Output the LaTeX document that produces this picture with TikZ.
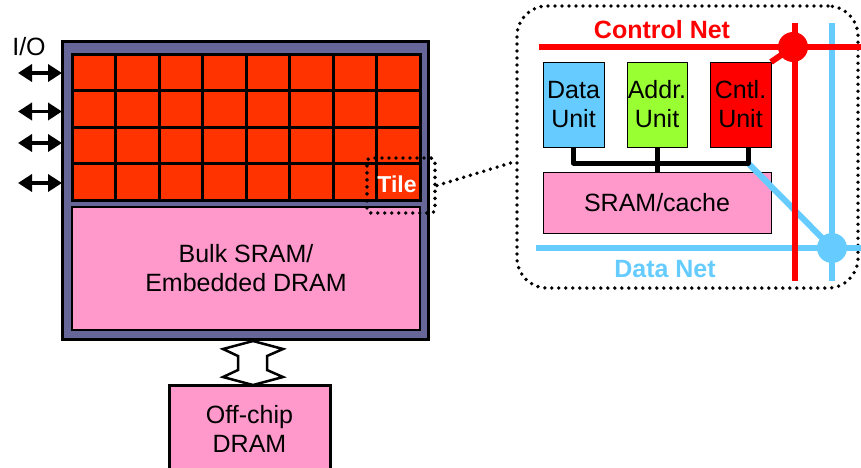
\documentclass[tikz,border=0pt]{standalone}
\usepackage{fontspec}
\setmainfont{Liberation Sans}
\usetikzlibrary{arrows.meta}
\definecolor{frame}{HTML}{666699}
\definecolor{tilered}{HTML}{FF3300}
\definecolor{pinkf}{HTML}{FF99CC}
\definecolor{netblue}{HTML}{66CCFF}
\definecolor{netred}{HTML}{FF0000}
\definecolor{addrgreen}{HTML}{99FF33}
\tikzset{
  box/.style={draw, inner sep=0pt, outer sep=0pt, align=center, font=\fontsize{25}{29}\selectfont},
  thinbox/.style={box, line width=0.8pt},
  dotline/.style={line width=3.8pt, dash pattern=on 0pt off 7pt, line cap=round},
  gridline/.style={line width=3pt, black},
  ioarrow/.style={line width=3.5pt, {Triangle[length=14pt,width=17pt]}-{Triangle[length=14pt,width=17pt]}},
  rednet/.style={line width=6pt, netred},
  bluenet/.style={line width=6pt, netblue},
  netlabel/.style={font=\fontsize{25}{28}\selectfont\bfseries, inner sep=0pt},
  junction/.style={circle, inner sep=0pt, minimum size=30pt},
}
\begin{document}
\begin{tikzpicture}[x=1pt,y=-1pt]
\useasboundingbox (0,0) rectangle (861,467);

% chip
\node[box, fill=frame, line width=3pt, minimum width=366pt, minimum height=298pt] (chip) at (245,190) {};
\node[box, fill=tilered, line width=3pt, minimum width=348pt, minimum height=146pt] (grid) at (246,127) {};
\foreach \i in {1,...,7} \draw[gridline] (72+43.5*\i,54) -- (72+43.5*\i,200);
\foreach \j in {1,...,3} \draw[gridline] (72,54+36.5*\j) -- (420,54+36.5*\j);
\node[box, fill=pinkf, line width=2.5pt, minimum width=348pt, minimum height=123pt] (bulk) at (246,268.5) {Bulk SRAM/\\Embedded DRAM};

% I/O
\node[inner sep=0pt, font=\fontsize{25}{29}\selectfont] (io) at (29,47) {I/O};
\foreach \y [count=\k] in {73,111.5,143,183} {
  \coordinate (iol\k) at (18,\y);
  \draw[ioarrow] (iol\k) -- (iol\k -| chip.west);
}

% tile
\node[inner sep=0pt, text=white, font=\fontsize{23}{26}\selectfont\bfseries] (tile) at (397,184) {Tile};
\node[dotline, draw, rounded corners=4pt, minimum width=68pt, minimum height=55pt, inner sep=0pt] (tilebox) at (401,185.5) {};

% off-chip
\node[box, fill=pinkf, line width=3pt, minimum width=161pt, minimum height=88pt] (offchip) at (249.5,429) {Off-chip\\DRAM};
\draw[line width=2.5pt, fill=white, line join=miter]
  (253,341) -- (283,349) -- (267,356) -- (267,370) -- (283,377) -- (253,385)
  -- (223,377) -- (238,370) -- (238,356) -- (223,349) -- cycle;

% tile detail panel
\node[dotline, draw, rounded corners=30pt, minimum width=341pt, minimum height=282pt, inner sep=0pt] (panel) at (687.5,147) {};
\coordinate (pin) at (517,161);
\draw[dotline] (tilebox.east) -- (pin);

\node[thinbox, fill=netblue, minimum width=61pt, minimum height=85pt] (data) at (573.5,104.5) {Data\\Unit};
\node[thinbox, fill=addrgreen, minimum width=60pt, minimum height=85pt] (addr) at (657,104.5) {Addr.\\Unit};
\node[thinbox, fill=netred, minimum width=61pt, minimum height=85pt] (cntl) at (740.5,104.5) {Cntl.\\Unit};
\node[thinbox, fill=pinkf, minimum width=228pt, minimum height=61pt] (sram) at (657,202.5) {SRAM/cache};

% blue net
\coordinate (dnL) at (536,248); \coordinate (dnR) at (861,248);
\coordinate (dvT) at (832,23); \coordinate (dvB) at (832,281);
\coordinate (busend) at (748,163);
\draw[bluenet] (dnL) -- (dnR);
\draw[bluenet] (dvT) -- (dvB);
\node[junction, fill=netblue] (dn) at (832,248) {};
\draw[bluenet] (busend) -- (dn.center);

% red net
\coordinate (cnL) at (539,47); \coordinate (cnR) at (861,47);
\coordinate (cvT) at (795,23); \coordinate (cvB) at (795,281);
\draw[rednet] (cnL) -- (cnR);
\draw[rednet] (cvT) -- (cvB);
\node[junction, fill=netred] (cn) at (793,47) {};
\draw[rednet] (cntl.north east) -- (cn.center);

% bus
\draw[line width=5pt, line join=round] (data.south) -- (data.south |- busend) -- (busend) -- (busend |- cntl.south);
\draw[line width=5pt] (addr.south) -- (sram.north);

\node[netlabel, text=netred] (cnlab) at (662,30) {Control Net};
\node[netlabel, text=netblue] (dnlab) at (665,269) {Data Net};
\end{tikzpicture}
\end{document}
